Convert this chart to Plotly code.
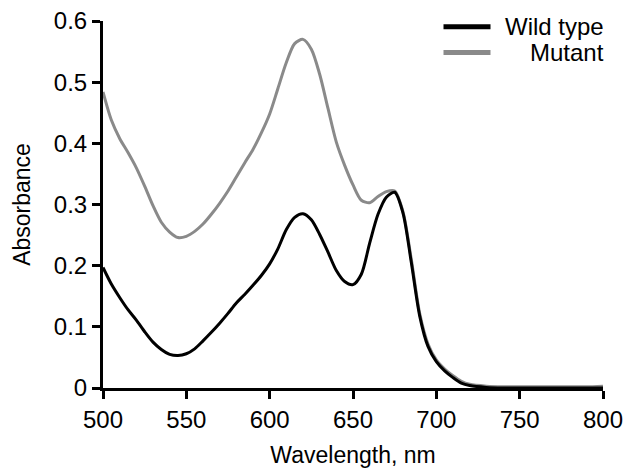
import plotly.graph_objects as go

wavelength = [500, 505, 510, 515, 520, 525, 530, 535, 540, 545, 550, 555, 560, 565, 570,
              575, 580, 585, 590, 595, 600, 605, 610, 615, 620, 625, 630, 635, 640, 645,
              650, 655, 660, 665, 670, 675, 680, 685, 690, 695, 700, 705, 710, 715, 720,
              730, 740, 750, 760, 770, 780, 790, 800]

wild_type = [0.197, 0.170, 0.148, 0.128, 0.111, 0.092, 0.075, 0.063, 0.055, 0.053, 0.056,
             0.064, 0.077, 0.091, 0.106, 0.122, 0.139, 0.153, 0.168, 0.184, 0.203, 0.228,
             0.259, 0.279, 0.285, 0.275, 0.251, 0.222, 0.192, 0.174, 0.169, 0.186, 0.237,
             0.284, 0.312, 0.320, 0.286, 0.205, 0.118, 0.068, 0.043, 0.028, 0.017, 0.008,
             0.004, 0.001, 0.0, 0.0, 0.0, 0.0, 0.0, 0.0, 0.0]

mutant = [0.484, 0.438, 0.408, 0.385, 0.360, 0.330, 0.298, 0.271, 0.255, 0.246, 0.248,
          0.256, 0.268, 0.284, 0.302, 0.322, 0.345, 0.368, 0.390, 0.417, 0.448, 0.490,
          0.532, 0.563, 0.570, 0.554, 0.513, 0.457, 0.402, 0.364, 0.332, 0.307, 0.303,
          0.313, 0.321, 0.322, 0.288, 0.210, 0.122, 0.072, 0.046, 0.031, 0.020, 0.011,
          0.006, 0.003, 0.002, 0.002, 0.002, 0.002, 0.002, 0.002, 0.003]

x_ticks = [500, 550, 600, 650, 700, 750, 800]
y_ticks = [0, 0.1, 0.2, 0.3, 0.4, 0.5, 0.6]
y_tick_labels = ["0", "0.1", "0.2", "0.3", "0.4", "0.5", "0.6"]

series_names = ["Wild type", "Mutant"]
series_colors = ["#000000", "#8a8a8a"]

FONT = "Liberation Sans, Arial, sans-serif"

fig = go.Figure()
fig.add_trace(go.Scatter(x=wavelength, y=mutant, mode="lines", name=series_names[1],
                         line=dict(color=series_colors[1], width=3, shape="spline", smoothing=0.8),
                         showlegend=False))
fig.add_trace(go.Scatter(x=wavelength, y=wild_type, mode="lines", name=series_names[0],
                         line=dict(color=series_colors[0], width=3, shape="spline", smoothing=0.8),
                         showlegend=False))

# custom legend (right-aligned labels as in the reference)
legend_y = [0.984, 0.914]
for name, col, ly in zip(series_names, series_colors, legend_y):
    fig.add_shape(type="line", xref="paper", yref="paper", x0=0.681, x1=0.775, y0=ly, y1=ly,
                  line=dict(color=col, width=5))
    fig.add_annotation(xref="paper", yref="paper", x=1.005, y=ly, text=name, showarrow=False,
                       xanchor="right", yanchor="middle", font=dict(family=FONT, size=24, color="black"))

fig.update_layout(
    width=627, height=468,
    margin=dict(l=103, r=24, t=21, b=80),
    plot_bgcolor="white", paper_bgcolor="white",
    font=dict(family=FONT, size=24, color="black"),
    showlegend=False,
)
fig.update_xaxes(range=[500, 800], tickvals=x_ticks, ticktext=[str(v) for v in x_ticks],
                 showline=True, linecolor="black", linewidth=3, ticks="outside", ticklen=8,
                 tickwidth=2.5, tickcolor="black", showgrid=False, zeroline=False,
                 automargin=False,
                 title=dict(text="Wavelength, nm", standoff=20, font=dict(size=23)))
fig.update_yaxes(range=[0, 0.6], tickvals=y_ticks, ticktext=y_tick_labels,
                 showline=True, linecolor="black", linewidth=3, ticks="outside", ticklen=8,
                 tickwidth=2.5, tickcolor="black", showgrid=False, zeroline=False,
                 automargin=False,
                 title=dict(text="Absorbance", standoff=17, font=dict(size=23)))

fig.write_html("out.html", config={"displayModeBar": False},
               post_script="document.body.style.margin='0';document.body.style.overflow='hidden';")
